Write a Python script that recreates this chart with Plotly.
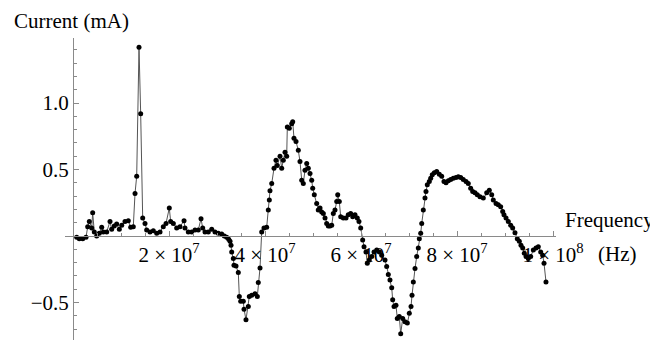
import plotly.graph_objects as go

# frequency in MHz, current in mA
freq_mhz = [
    0.77, 1.31, 2.02, 2.71, 3.06, 3.40, 3.90, 4.10, 4.44, 4.94,
    5.48, 5.98, 6.31, 7.02, 7.71, 8.06, 8.60, 9.10, 9.65, 10.15,
    10.83, 11.52, 12.02, 12.56, 12.92, 13.27, 13.75, 14.10, 14.52, 15.00,
    15.35, 16.04, 16.73, 17.44, 18.13, 18.81, 19.38, 20.06, 20.35, 20.90,
    21.60, 22.29, 23.13, 23.33, 24.02, 24.73, 25.42, 26.10, 26.67, 27.02,
    27.50, 28.19, 28.90, 29.58, 30.27, 30.98, 31.52, 32.02, 32.44, 32.71,
    32.92, 33.06, 33.40, 33.54, 33.96, 34.44, 34.65, 34.94, 35.48, 35.63,
    36.04, 36.52, 36.73, 37.23, 37.92, 38.40, 38.60, 38.96, 39.31, 39.79,
    40.35, 40.69, 40.90, 41.04, 41.40, 41.88, 42.29, 42.56, 43.13, 43.48,
    43.81, 44.17, 44.52, 44.65, 45.06, 45.56, 45.77, 46.04, 46.46, 46.94,
    47.29, 47.65, 47.98, 48.33, 48.69, 49.02, 49.38, 49.73, 49.94, 50.27,
    50.77, 51.10, 51.46, 51.81, 52.15, 52.50, 52.85, 53.19, 53.54, 53.90,
    54.23, 54.58, 54.94, 55.15, 55.48, 55.77, 56.31, 56.88, 57.35, 57.85,
    58.27, 58.75, 59.23, 59.58, 59.94, 60.35, 60.63, 61.04, 61.31, 61.73,
    62.23, 62.71, 63.27, 63.81, 64.31, 65.00, 65.35, 65.69, 66.04, 66.40,
    66.60, 66.88, 67.29, 67.56, 67.98, 68.27, 68.69, 69.17, 69.65, 70.06,
    70.42, 70.63, 70.90, 71.25, 71.60, 71.94, 72.15, 72.44, 72.65, 72.98,
    73.33, 73.54, 73.81, 74.23, 74.52, 74.85, 75.27, 75.77, 76.31, 76.81,
    77.29, 77.71, 78.19, 78.69, 79.23, 79.79, 80.27, 80.77, 81.31, 81.88,
    82.35, 82.85, 83.27, 83.75, 84.23, 84.79, 85.48, 86.19, 86.73, 87.23,
    87.56, 88.13, 88.60, 89.10, 89.52, 89.79, 90.21, 90.69, 91.19, 91.60,
    92.08, 92.56, 92.98, 93.33, 93.69, 94.02, 94.38, 94.85, 95.35, 95.90,
    96.46, 96.94, 97.44, 97.85, 98.13, 98.54,
]
current_ma = [
    -0.01, -0.02, -0.02, -0.01, 0.07, 0.11, 0.06, 0.175, 0.03, 0.0,
    0.02, 0.065, 0.03, 0.03, 0.11, 0.05, 0.075, 0.09, 0.05, 0.08,
    0.11, 0.115, 0.065, 0.07, 0.32, 0.45, 1.42, 0.92, 0.135, 0.095,
    0.045, 0.03, 0.04, 0.02, 0.03, 0.07, 0.095, 0.21, 0.11, 0.095,
    0.06, 0.07, 0.115, 0.06, 0.03, 0.03, 0.045, 0.045, 0.13, 0.06,
    0.03, 0.03, 0.05, 0.03, 0.02, 0.015, 0.0, -0.01, -0.025, -0.04,
    -0.07, -0.12, -0.17, -0.22, -0.225, -0.275, -0.455, -0.49, -0.49, -0.55,
    -0.63, -0.53, -0.455, -0.445, -0.435, -0.455, -0.35, -0.24, 0.03, 0.06,
    0.065, 0.195, 0.27, 0.34, 0.395, 0.51, 0.57, 0.53, 0.6, 0.51,
    0.57, 0.63, 0.6, 0.82, 0.81, 0.845, 0.86, 0.735, 0.71, 0.645,
    0.56, 0.42, 0.395, 0.495, 0.545, 0.51, 0.47, 0.42, 0.36, 0.31,
    0.245, 0.195, 0.21, 0.18, 0.17, 0.135, 0.095, 0.075, 0.075, 0.08,
    0.17, 0.195, 0.26, 0.31, 0.26, 0.145, 0.135, 0.135, 0.16, 0.17,
    0.145, 0.16, 0.135, 0.11, 0.06, -0.03, -0.08, -0.12, -0.205, -0.18,
    -0.155, -0.12, -0.105, -0.12, -0.145, -0.18, -0.23, -0.29, -0.33, -0.39,
    -0.48, -0.53, -0.52, -0.62, -0.605, -0.735, -0.62, -0.645, -0.655, -0.58,
    -0.53, -0.445, -0.345, -0.245, -0.155, -0.09, -0.02, 0.02, 0.095, 0.195,
    0.285, 0.335, 0.385, 0.41, 0.435, 0.46, 0.475, 0.485, 0.465, 0.45,
    0.41, 0.4, 0.415, 0.425, 0.435, 0.44, 0.445, 0.44, 0.425, 0.41,
    0.395, 0.36, 0.335, 0.325, 0.31, 0.295, 0.285, 0.325, 0.345, 0.31,
    0.27, 0.245, 0.235, 0.22, 0.185, 0.16, 0.135, 0.11, 0.08, 0.06,
    0.025, -0.02, -0.04, -0.07, -0.09, -0.13, -0.155, -0.17, -0.155, -0.105,
    -0.09, -0.08, -0.12, -0.145, -0.205, -0.345,
]

x_tick_vals = [2e7, 4e7, 6e7, 8e7, 1e8]
x_tick_text = ["2 × 10<sup>7</sup>", "4 × 10<sup>7</sup>", "6 × 10<sup>7</sup>",
               "8 × 10<sup>7</sup>", "1 × 10<sup>8</sup>"]
y_tick_vals = [-0.5, 0.5, 1.0]
y_tick_text = ["−0.5", "0.5", "1.0"]

freq_hz = [f * 1e6 for f in freq_mhz]

x_range = [-1.667e6, 1.00625e8]
y_range = [-0.782, 1.489]

fig = go.Figure()
fig.add_trace(go.Scatter(
    x=freq_hz, y=current_ma, mode="lines+markers",
    line=dict(color="#555555", width=1),
    marker=dict(color="black", size=5),
    showlegend=False, cliponaxis=False,
))

axis_grey = "#8a8a8a"
# page body has an 8px margin, so the margins are pulled in by 8px
fig.update_layout(
    width=658, height=340,
    margin=dict(l=57, r=110, t=30, b=8, autoexpand=False),
    plot_bgcolor="white", paper_bgcolor="white",
    font=dict(family="Liberation Serif", size=21, color="black"),
    xaxis=dict(
        range=x_range, showgrid=False, zeroline=False, automargin=False,
        showline=True, linecolor=axis_grey, linewidth=1,
        anchor="free", position=(0 - y_range[0]) / (y_range[1] - y_range[0]),
        tickmode="array", tickvals=x_tick_vals, ticktext=x_tick_text,
        ticks="inside", ticklen=5, tickcolor=axis_grey,
        minor=dict(tickmode="linear", tick0=0, dtick=5e6, ticks="inside",
                   ticklen=3, tickcolor=axis_grey),
    ),
    yaxis=dict(
        range=y_range, showgrid=False, zeroline=False, automargin=False,
        showline=True, linecolor=axis_grey, linewidth=1,
        anchor="free", position=(0 - x_range[0]) / (x_range[1] - x_range[0]),
        tickmode="array", tickvals=y_tick_vals, ticktext=y_tick_text,
        ticks="inside", ticklen=5, tickcolor=axis_grey,
        minor=dict(tickmode="linear", tick0=0, dtick=0.1, ticks="inside",
                   ticklen=3, tickcolor=axis_grey),
    ),
    annotations=[
        dict(text="Current (mA)", x=-0.108, y=1.056, xref="paper", yref="paper",
             xanchor="left", yanchor="middle", showarrow=False),
        dict(text="Frequency", x=1.014, y=0.397, xref="paper", yref="paper",
             xanchor="left", yanchor="middle", showarrow=False),
        dict(text="(Hz)", x=1.0815, y=0.285, xref="paper", yref="paper",
             xanchor="left", yanchor="middle", showarrow=False),
    ],
)

fig.write_html("out.html")
